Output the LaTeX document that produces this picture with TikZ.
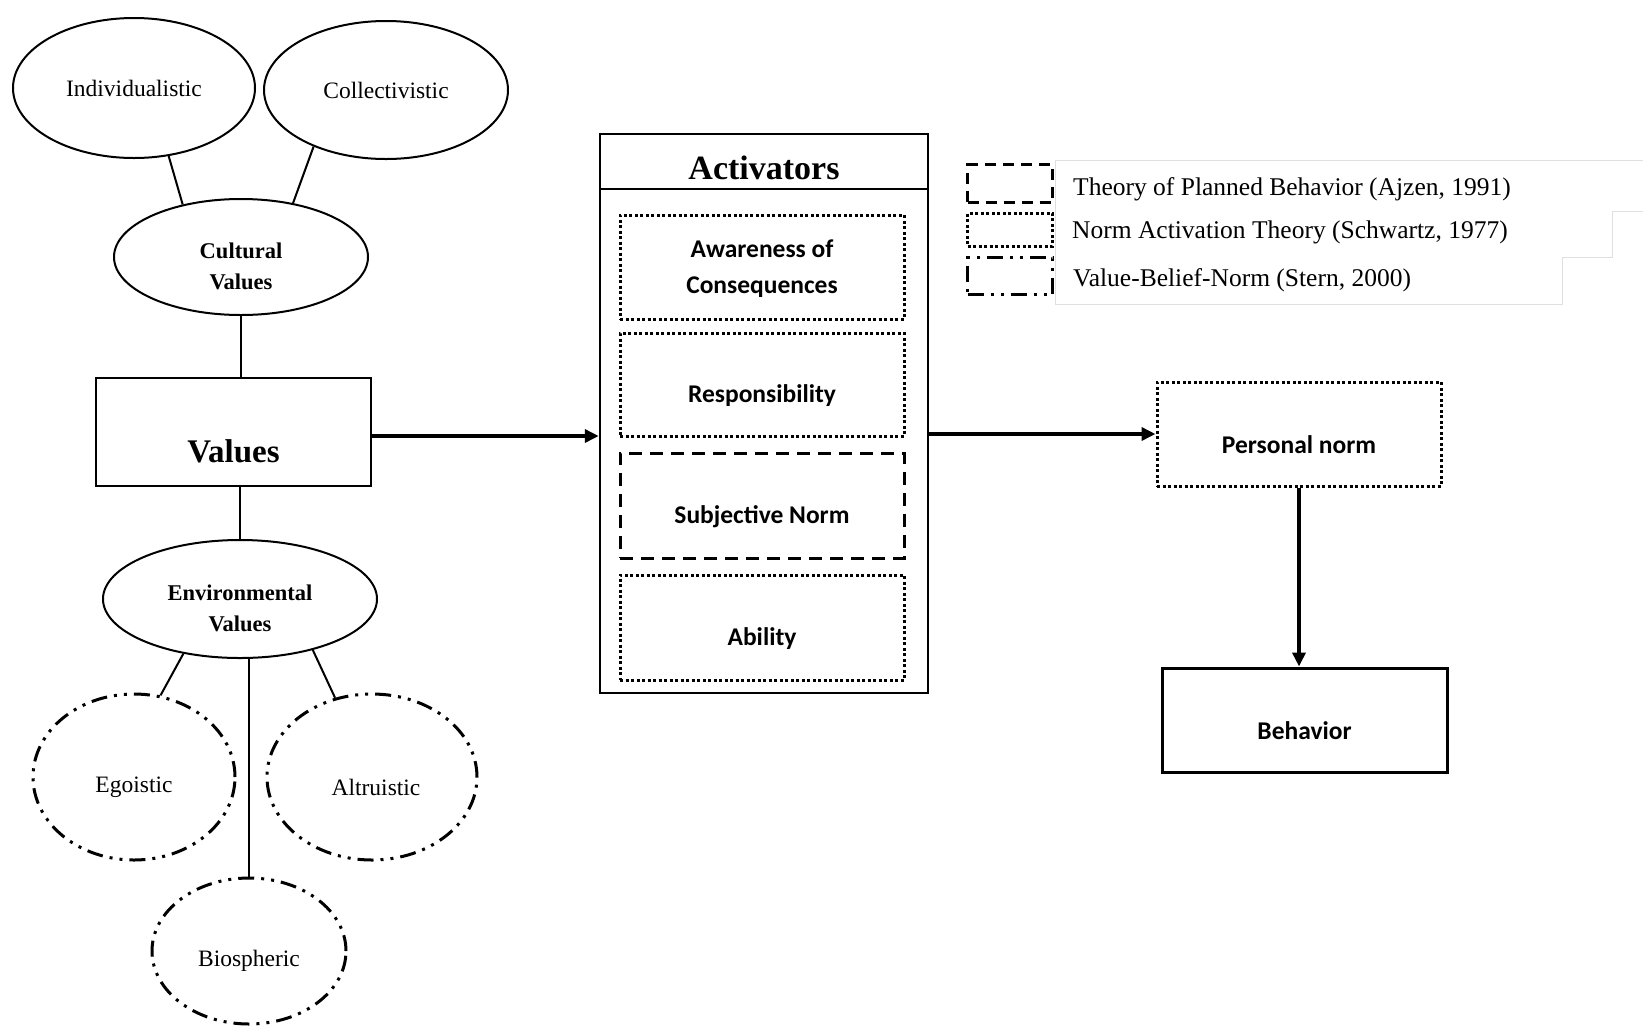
\documentclass[tikz,border=0pt]{standalone}
\usepackage{fontspec}
\setmainfont{Liberation Serif}
\setsansfont{Carlito}
\usepackage{tikz}
\usetikzlibrary{positioning,arrows.meta,shapes.geometric}

\begin{document}
\begin{tikzpicture}[x=1pt, y=-1pt,
			valnode/.style={ellipse, draw, line width=2pt, inner sep=0pt, font=\fontsize{23.5}{30}\selectfont},
			vbnnode/.style={valnode, line width=3pt, dash pattern=on 16pt off 7pt on 3pt off 7pt on 3pt off 7pt},
			plainbox/.style={rectangle, draw, line width=2.5pt, inner sep=0pt, minimum width=284pt, minimum height=104pt},
			natbox/.style={plainbox, line width=3pt, dash pattern=on 3pt off 2.5pt},
			tpbbox/.style={plainbox, line width=3pt, dash pattern=on 13pt off 8pt},
			valtxt/.style={font=\fontsize{23.5}{30}\selectfont, yshift=-10pt},
			grouptxt/.style={align=center, font=\bfseries\fontsize{22.5}{31}\selectfont, yshift=-9pt},
			boxtxt/.style={align=center, font=\sffamily\bfseries\fontsize{25.5}{36}\selectfont, yshift=-11pt},
			swatch/.style={rectangle, draw, inner sep=0pt, minimum width=85pt},
			legtext/.style={anchor=west, inner sep=0pt, font=\fontsize{25.5}{30}\selectfont},
			link/.style={line width=2pt},
			arrow/.style={line width=3.5pt, -{Triangle[length=14pt,width=13pt]}},
			]
			\useasboundingbox (0,0) rectangle (1643,1029);
			%Nodes
			\node[valnode, minimum width=242pt, minimum height=140pt] (ind)  at (134,88)  {Individualistic};
			\node[valnode, minimum width=244pt, minimum height=138pt] (coll) at (386,90)  {Collectivistic};
			\node[valnode, minimum width=254pt, minimum height=116pt, label={[grouptxt]center:Cultural\\Values}] (cult) at (241,257) {};

			\node[plainbox, minimum width=275pt, minimum height=108pt,
				label={[font=\bfseries\fontsize{33}{36}\selectfont, yshift=-19pt]center:Values}] (values) at (233.5,432) {};

			\node[valnode, minimum width=274pt, minimum height=118pt, label={[grouptxt]center:Environmental\\Values}] (env) at (240,599) {};
			\node[vbnnode, minimum width=202pt, minimum height=166pt, label={[valtxt]center:Egoistic}] (ego) at (134,777) {};
			\node[vbnnode, minimum width=210pt, minimum height=166pt, label={[valtxt, xshift=4pt]center:Altruistic}] (alt) at (372,777) {};
			\node[vbnnode, minimum width=194pt, minimum height=146pt, label={[valtxt]center:Biospheric}] (bio) at (249,951) {};

			\node[plainbox, minimum width=328pt, minimum height=55pt,
				label={[font=\bfseries\fontsize{34}{36}\selectfont, yshift=-6pt]center:Activators}] (acthead) at (764,161.5) {};
			\node[plainbox, minimum width=328pt, minimum height=504pt] (actbody) at (764,441) {};
			\node[natbox, minimum height=104pt, label={[boxtxt, yshift=9pt]center:Awareness of\\Consequences}] (aware) at (762,267) {};
			\node[natbox, minimum height=103pt, label={[boxtxt]center:Responsibility}] (resp)  at (762,384.5) {};
			\node[tpbbox, minimum height=105pt, label={[boxtxt]center:Subjective Norm}] (subj)  at (762,505.5) {};
			\node[natbox, minimum height=105pt, label={[boxtxt]center:Ability}] (abil)  at (762,627.5) {};

			\node[natbox, label={[boxtxt]center:Personal norm}] (pnorm) at (1299,434) {};
			\node[plainbox, line width=3pt, minimum width=285pt, label={[boxtxt]center:Behavior}] (behav) at (1304.5,720) {};

			%Legend
			\draw[gray!25, line width=1pt] (1643,160) -- (1055,160) -- (1055,304) -- (1562,304) -- (1562,257) -- (1612,257) -- (1612,211) -- (1643,211);
			\node[swatch, minimum height=38pt, line width=3pt, dash pattern=on 11pt off 7pt] (lgtpb) at (1010,183.5) {};
			\node[swatch, minimum height=33pt, line width=3pt, dash pattern=on 3pt off 2.5pt] (lgnat) at (1010,229.5) {};
			\node[swatch, minimum height=37pt, line width=3pt, dash pattern=on 16pt off 7pt on 3pt off 7pt on 3pt off 7pt] (lgvbn) at (1010,276) {};
			\node[legtext] (txtpb) at (1073,189) {Theory of Planned Behavior (Ajzen, 1991)};
			\node[legtext] (txnat) at (1072,232) {Norm Activation Theory (Schwartz, 1977)};
			\node[legtext] (txvbn) at (1073,280) {Value-Belief-Norm (Stern, 2000)};

			%Links
			\draw[link] (ind.-63) -- (cult.138);
			\draw[link] (coll.218) -- (cult.46);
			\draw[link] (cult.south) -- (cult.south |- values.north);
			\draw[link] (env.north |- values.south) -- (env.north);
			\draw[link] (env.224) -- (ego.72);
			\draw[link] (env.-35) -- (alt.115);
			\draw[link] (bio.north |- env.south) -- (bio.north);

			%Arrows
			\draw[arrow] ([yshift=-4pt]values.east) -- ([yshift=-4pt]values.east -| actbody.west);
			\draw[arrow] (actbody.east |- pnorm.west) -- (pnorm.west);
			\draw[arrow] (pnorm.south) -- (pnorm.south |- behav.north);
		\end{tikzpicture}
\end{document}
